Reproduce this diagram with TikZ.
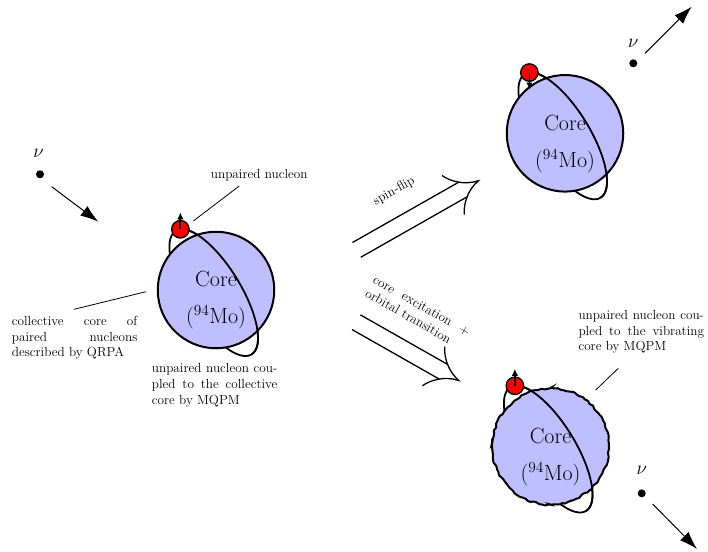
\RequirePackage{fix-cm}
\documentclass[tikz,border=0pt]{standalone}
\usetikzlibrary{arrows.meta,calc,decorations.pathmorphing}

% a line of a note stretched to the full width of its box
\newcommand{\fullline}[1]{\makebox[\linewidth][s]{#1}}

\tikzset{
  sphere/.style={circle, draw, line width=2pt, fill=blue!25, minimum size=116.5pt, inner sep=0pt},
  wavy/.style={decorate, decoration={random steps, segment length=3pt, amplitude=1pt}, rounded corners=0.8pt},
  orbit/.style={line width=1.8pt},
  orbitframe/.style={shift={(#1)}, shift={(-2.3,-2.6)}, rotate=-58.5},
  nucleon/.style={circle, draw, line width=1.3pt, fill=red, minimum size=17.5pt, inner sep=0pt},
  spin/.style={line width=1.8pt, -{Latex[length=7pt,width=6.5pt]}},
  coretext/.style={align=center, inner sep=0pt, font=\fontsize{22}{37}\selectfont},
  nudot/.style={circle, fill, minimum size=8pt, inner sep=0pt},
  nulabel/.style={inner sep=0pt, font=\fontsize{19}{19}\selectfont},
  nuarrow/.style={line width=1pt, -{Latex[length=18pt,width=12pt]}},
  note/.style={inner sep=0pt, font=\fontsize{13.2}{15.6}\selectfont},
  pointer/.style={line width=0.8pt},
  shaftline/.style={line width=1.3pt},
  pics/impliestip/.style={code={
    \draw[line width=1.3pt] (-29pt,22.5pt) .. controls (-25pt,14pt) and (-15pt,3pt) .. (0,0)
      .. controls (-15pt,-3pt) and (-25pt,-14pt) .. (-29pt,-22.5pt);
  }},
}

\begin{document}
\begin{tikzpicture}[x=1pt, y=1pt]
\useasboundingbox (0,0) rectangle (708,-551);

% centres of the three nuclei
\coordinate (cL) at (216,-290);
\coordinate (cT) at (565,-133.3);
\coordinate (cB) at (550.5,-446.5);

% ---------- initial nucleus ----------
\begin{scope}[orbitframe=cL]
  \draw[orbit] (0,0) ellipse[x radius=72.5pt, y radius=27pt];
  \coordinate (posL) at ({72.5*cos(170)},{27*sin(170)});
\end{scope}
\node[sphere] (coreL) at (cL) {};
\begin{scope}[orbitframe=cL]
  \draw[orbit] (72.5,0) arc[start angle=0, end angle=180, x radius=72.5pt, y radius=27pt];
\end{scope}
\node[nucleon] (nucL) at (posL) {};
\draw[spin] (nucL.center) -- ++(0,17);
\node[coretext] (txtL) at ($(cL)+(0,-10.5)$) {Core\\$(^{94}\mathrm{Mo})$};

% ---------- spin-flip final state ----------
\begin{scope}[orbitframe=cT]
  \draw[orbit] (0,0) ellipse[x radius=72.5pt, y radius=27pt];
  \coordinate (posT) at ({72.5*cos(170)},{27*sin(170)});
\end{scope}
\node[sphere] (coreT) at (cT) {};
\begin{scope}[orbitframe=cT]
  \draw[orbit] (72.5,0) arc[start angle=0, end angle=180, x radius=72.5pt, y radius=27pt];
\end{scope}
\node[nucleon] (nucT) at (posT) {};
\draw[spin] (nucT.center) -- ++(0,-17);
\node[coretext] (txtT) at ($(cT)+(0,-10.5)$) {Core\\$(^{94}\mathrm{Mo})$};

% ---------- vibrating core final state ----------
\begin{scope}[orbitframe=cB]
  \draw[orbit] (0,0) ellipse[x radius=72.5pt, y radius=27pt];
  \coordinate (posB) at ({72.5*cos(170)},{27*sin(170)});
\end{scope}
\node[sphere, wavy] (coreB) at (cB) {};
\begin{scope}[orbitframe=cB]
  \draw[orbit] (72.5,0) arc[start angle=0, end angle=180, x radius=72.5pt, y radius=27pt];
\end{scope}
\node[nucleon] (nucB) at (posB) {};
\draw[spin] (nucB.center) -- ++(0,17);
\node[coretext] (txtB) at ($(cB)+(0,-10.5)$) {Core\\$(^{94}\mathrm{Mo})$};

% ---------- neutrinos ----------
\node[nudot] (nuL) at (40,-174.3) {};
\node[nulabel] (nuLsym) at (38.5,-153.3) {$\nu$};
\coordinate (nuLa) at (51.7,-186.7);
\coordinate (nuLb) at (98.3,-221.7);
\draw[nuarrow] (nuLa) -- (nuLb);

\node[nudot] (nuT) at (633.3,-63.3) {};
\node[nulabel] (nuTsym) at (633.3,-43.3) {$\nu$};
\coordinate (nuTa) at (645,-53.3);
\coordinate (nuTb) at (691.7,-6.7);
\draw[nuarrow] (nuTa) -- (nuTb);

\node[nudot] (nuB) at (641.7,-493.3) {};
\node[nulabel] (nuBsym) at (641.7,-470) {$\nu$};
\coordinate (nuBa) at (652.7,-504);
\coordinate (nuBb) at (697,-549);
\draw[nuarrow] (nuBa) -- (nuBb);

% ---------- transitions (double-line arrows) ----------
\coordinate (sfTail) at (356.6,-249.9);
\coordinate (sfTip) at ($(sfTail)+(29.6:140)$);
\coordinate (sfEnd) at ($(sfTip)!17.7pt!(sfTail)$);
\draw[shaftline] ($(sfTail)!8.45pt!90:(sfEnd)$) -- ($(sfEnd)!8.45pt!-90:(sfTail)$);
\draw[shaftline] ($(sfTail)!8.45pt!-90:(sfEnd)$) -- ($(sfEnd)!8.45pt!90:(sfTail)$);
\pic[rotate=29.6] at (sfTip) {impliestip};
\node[note, rotate=29.6] (sfLabel) at (394,-191) {spin-flip};

\coordinate (ceTail) at (356.2,-322.2);
\coordinate (ceTip) at ($(ceTail)+(-29.6:118)$);
\coordinate (ceEnd) at ($(ceTip)!17.7pt!(ceTail)$);
\draw[shaftline] ($(ceTail)!8.45pt!90:(ceEnd)$) -- ($(ceEnd)!8.45pt!-90:(ceTail)$);
\draw[shaftline] ($(ceTail)!8.45pt!-90:(ceEnd)$) -- ($(ceEnd)!8.45pt!90:(ceTail)$);
\pic[rotate=-29.6] at (ceTip) {impliestip};
\node[note, rotate=-29.6, anchor=base west] (ceLabel) at (372,-282.5)
  {\parbox[t]{109pt}{\fullline{core excitation +}\\orbital transition}};

% ---------- notes ----------
\node[note, anchor=base west] (nucNote) at (210.7,-178) {unpaired nucleon};
\coordinate (p1a) at (193.3,-221);
\coordinate (p1b) at (239.3,-186);
\draw[pointer] (p1a) -- (p1b);

\node[note, anchor=base west] (qrpaNote) at (11.7,-325.5)
  {\parbox[t]{125.5pt}{\fullline{collective core of}\\\fullline{paired nucleons}\\described by QRPA}};
\coordinate (p2a) at (74,-309.3);
\coordinate (p2b) at (146,-291.7);
\draw[pointer] (p2a) -- (p2b);

\node[note, anchor=base west] (collNote) at (151.7,-372.8)
  {\parbox[t]{125.5pt}{\fullline{unpaired nucleon cou-}\\\fullline{pled to the collective}\\core by MQPM}};

\node[note, anchor=base west] (vibNote) at (578.3,-319.5)
  {\parbox[t]{125.5pt}{\fullline{unpaired nucleon cou-}\\\fullline{pled to the vibrating}\\core by MQPM}};
\coordinate (p3a) at (595.7,-390);
\coordinate (p3b) at (618.3,-368.3);
\draw[pointer] (p3a) -- (p3b);
\end{tikzpicture}
\end{document}
